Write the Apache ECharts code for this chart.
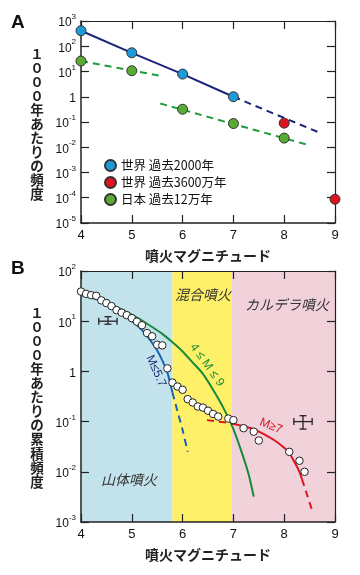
<!DOCTYPE html>
<html><head><meta charset="utf-8">
<script src="https://cdn.jsdelivr.net/npm/echarts@6/dist/echarts.min.js"></script>
<style>html,body{margin:0;padding:0;background:#fff}#c{width:360px;height:575px}</style>
</head><body><div id="c"></div>
<script>
// ---------- Panel A data ----------
const magTicks = [4,5,6,7,8,9];
const world2000M = [4,5,6,7];
const world2000 = [412,55,7.9,1.0];
const world36MM = [8,9];
const world36M = [0.09,0.000087];
const japanM = [4,5,6,7,8];
const japan = [26,10.7,0.32,0.087,0.023];
const worldDashM = [7,8.72];
const worldDash = [1.0,0.036];
const japanFit1M = [4,5.62];
const japanFit1 = [26,6.4];
const japanFit2M = [5.56,8.43];
const japanFit2 = [0.54,0.013];
const legendNames = ['世界 過去2000年','世界 過去3600万年','日本 過去12万年'];

// ---------- Panel B data ----------
const cumM = [4.0,4.1,4.2,4.3,4.4,4.5,4.6,4.7,4.8,4.9,5.0,5.1,5.2,5.3,5.4,5.5,5.6,5.7,5.8,5.9,6.0,6.1,6.2,6.3,6.4,6.5,6.6,6.7,6.9,7.0,7.2,7.4,7.5,8.1,8.3,8.4];
const cumFreq = [39,35,33,32,26,23,20,16.6,14.8,13.2,11.5,9.8,8.3,5.8,5.0,3.4,3.3,1.15,0.6,0.5,0.43,0.28,0.24,0.2,0.19,0.165,0.142,0.126,0.115,0.107,0.074,0.063,0.042,0.025,0.0166,0.010];
const allM = [4.0,4.3,4.6,5.0,5.3,5.6,5.8,6.0,6.2,6.4,6.6,6.8,7.0,7.2,7.3,7.4];
const allFit = [33,28,21.4,13.5,8.9,5.6,3.8,2.5,1.5,0.89,0.43,0.19,0.071,0.019,0.0089,0.0032];
const smallM = [4.0,4.3,4.6,4.9,5.2,5.4,5.5,5.6,5.7,5.8];
const smallFit = [33,27.5,19.5,12,6.7,3.7,2.6,1.66,0.95,0.38];
const smallDashM = [5.8,5.9,6.0,6.1];
const smallDash = [0.38,0.16,0.068,0.025];
const largeDashM = [6.48,6.95];
const largeDash = [0.107,0.093];
const largeM = [6.95,7.2,7.4,7.6,7.8,8.0,8.1,8.2,8.3,8.35];
const largeFit = [0.093,0.081,0.071,0.056,0.043,0.030,0.0234,0.0158,0.010,0.0071];
const largeDash2M = [8.35,8.45,8.55];
const largeDash2 = [0.0071,0.0035,0.0017];
const bandStart = [4,5.8,6.96];
const bandEnd = [5.8,6.96,9];
// error bars: centre M, centre value, M low, M high, value low, value high
const errBars = [[4.53,10,4.35,4.71,8.7,12.3],[8.37,0.1,8.19,8.55,0.071,0.131]];

const bandColors = ['#c3e3ec','#fff06a','#f1d1da'];
const FONT = '"Liberation Sans","Noto Sans CJK JP",sans-serif';
const JFONT = '"Noto Sans CJK JP","Liberation Sans",sans-serif';

function pairs(xs, ys){ return xs.map((x,i)=>[x, ys[i]]); }
function logLabel(v){
  const e = Math.round(Math.log10(v));
  if (e === 0) return '{b|1}';
  return '{b|10}{s|' + e + '}';
}
const richLab = {
  b:{fontSize:12, fontFamily:FONT, color:'#111', lineHeight:16, verticalAlign:'bottom'},
  s:{fontSize:8, fontFamily:FONT, color:'#111', lineHeight:8, verticalAlign:'top'}
};
const lineCol = '#222';
function xMain(grid){
  return {type:'value', gridIndex:grid, min:4, max:9, interval:1, position:'bottom',
    axisLine:{show:true, onZero:false, lineStyle:{color:lineCol, width:1.5}},
    axisTick:{show:true, inside:true, length:8, lineStyle:{color:lineCol, width:1.2}},
    axisLabel:{fontSize:13, color:'#111', fontFamily:FONT, margin:6},
    splitLine:{show:false},
    name:'噴火マグニチュード', nameLocation:'middle', nameGap:26,
    nameTextStyle:{fontSize:14, fontWeight:'bold', color:'#222', fontFamily:JFONT}};
}
function xTop(grid){
  return {type:'value', gridIndex:grid, min:4, max:9, interval:1, position:'top',
    axisLine:{show:true, onZero:false, lineStyle:{color:lineCol, width:1.2}},
    axisTick:{show:true, inside:true, length:8, lineStyle:{color:lineCol, width:1.2}},
    axisLabel:{show:false}, splitLine:{show:false}};
}
function yMain(grid, min, max, n){
  return {type:'log', logBase:10, gridIndex:grid, min:min, max:max, splitNumber:n, position:'left',
    axisLine:{show:true, onZero:false, lineStyle:{color:lineCol, width:1.5}},
    axisTick:{show:true, inside:true, length:8, lineStyle:{color:lineCol, width:1.2}},
    axisLabel:{formatter:logLabel, rich:richLab, margin:5},
    minorTick:{show:false}, splitLine:{show:false}};
}
function yRight(grid, min, max, n){
  return {type:'log', logBase:10, gridIndex:grid, min:min, max:max, splitNumber:n, position:'right',
    axisLine:{show:true, onZero:false, lineStyle:{color:lineCol, width:1.2}},
    axisTick:{show:true, inside:true, length:8, lineStyle:{color:lineCol, width:1.2}},
    axisLabel:{show:false}, splitLine:{show:false}};
}

const chart = echarts.init(document.getElementById('c'), null, {renderer:'canvas'});
const dashStyle = [7,5];
const option = {
  animation:false,
  backgroundColor:'#fff',
  grid:[
    {left:81, top:21, width:254, height:202},
    {left:81, top:271, width:254, height:251}
  ],
  xAxis:[xMain(0), xTop(0), xMain(1), xTop(1)],
  yAxis:[yMain(0,1e-5,1e3,8), yRight(0,1e-5,1e3,8), yMain(1,1e-3,1e2,5), yRight(1,1e-3,1e2,5)],
  legend:{
    data:legendNames, orient:'vertical', left:99, top:154, itemGap:4,
    icon:'circle', itemWidth:11, itemHeight:11,
    textStyle:{fontSize:12.5, color:'#111', fontFamily:JFONT, lineHeight:13},
    selectedMode:false
  },
  graphic:[
    {type:'text', left:11, top:13, style:{text:'A', font:'bold 19px "Liberation Sans",sans-serif', fill:'#111'}},
    {type:'text', left:11, top:259, style:{text:'B', font:'bold 19px "Liberation Sans",sans-serif', fill:'#111'}},
    {type:'text', x:37, y:124, style:{text:'１０００年あたりの頻度'.split('').join('\n'), font:'bold 13.5px '+JFONT, fill:'#222', align:'center', verticalAlign:'middle', lineHeight:14}},
    {type:'text', x:37, y:397, style:{text:'１０００年あたりの累積頻度'.split('').join('\n'), font:'bold 13.5px '+JFONT, fill:'#222', align:'center', verticalAlign:'middle', lineHeight:14.1}},
    {type:'text', x:203, y:295, z:50, style:{text:'混合噴火', font:'italic 14px '+JFONT, fill:'#333', align:'center', verticalAlign:'middle'}},
    {type:'text', x:287, y:305, z:50, style:{text:'カルデラ噴火', font:'italic 14px '+JFONT, fill:'#333', align:'center', verticalAlign:'middle'}},
    {type:'text', x:129, y:480, z:50, style:{text:'山体噴火', font:'italic 14px '+JFONT, fill:'#333', align:'center', verticalAlign:'middle'}},
    {type:'text', x:156, y:371, z:50, rotation:-1.15, style:{text:'M≤5.7', font:'12px '+FONT, fill:'#1b2a7a', align:'center', verticalAlign:'middle'}},
    {type:'text', x:207, y:365, z:50, rotation:-0.95, style:{text:'4 ≤ M ≤ 9', font:'12px '+FONT, fill:'#1a8a3a', align:'center', verticalAlign:'middle'}},
    {type:'text', x:271, y:426, z:50, rotation:-0.38, style:{text:'M≥7', font:'12px '+FONT, fill:'#d8121e', align:'center', verticalAlign:'middle'}}
  ],
  series:[
    // ---- Panel A ----
    {type:'line', xAxisIndex:0, yAxisIndex:0, data:pairs(world2000M, world2000), symbol:'none', z:2,
      lineStyle:{color:'#1b237a', width:2}},
    {type:'line', xAxisIndex:0, yAxisIndex:0, data:pairs(worldDashM, worldDash), symbol:'none', z:2,
      lineStyle:{color:'#1b237a', width:2, type:dashStyle}},
    {type:'line', xAxisIndex:0, yAxisIndex:0, data:pairs(japanFit1M, japanFit1), symbol:'none', z:2,
      lineStyle:{color:'#1f9a3a', width:2, type:dashStyle}},
    {type:'line', xAxisIndex:0, yAxisIndex:0, data:pairs(japanFit2M, japanFit2), symbol:'none', z:2,
      lineStyle:{color:'#1f9a3a', width:2, type:dashStyle}},
    {name:legendNames[0], type:'scatter', xAxisIndex:0, yAxisIndex:0, data:pairs(world2000M, world2000), symbolSize:10, z:5,
      itemStyle:{color:'#1d9ad8', borderColor:'#333', borderWidth:1, opacity:1}},
    {name:legendNames[1], type:'scatter', xAxisIndex:0, yAxisIndex:0, data:pairs(world36MM, world36M), symbolSize:10, z:5, clip:false,
      itemStyle:{color:'#dd1420', borderColor:'#333', borderWidth:1, opacity:1}},
    {name:legendNames[2], type:'scatter', xAxisIndex:0, yAxisIndex:0, data:pairs(japanM, japan), symbolSize:10, z:5,
      itemStyle:{color:'#5aab34', borderColor:'#333', borderWidth:1, opacity:1}},
    // ---- Panel B ----
    {type:'custom', xAxisIndex:2, yAxisIndex:2, z:0, silent:true,
      data:bandStart.map((s,i)=>[s, bandEnd[i], i]),
      renderItem:function(params, api){
        const p0 = api.coord([api.value(0), 1e2]);
        const p1 = api.coord([api.value(1), 1e-3]);
        return {type:'rect', shape:{x:p0[0], y:p0[1], width:p1[0]-p0[0], height:p1[1]-p0[1]},
          style:{fill:bandColors[api.value(2)]}};
      }},
    {type:'line', xAxisIndex:2, yAxisIndex:2, data:pairs(allM, allFit), symbol:'none', smooth:0.3, z:3,
      lineStyle:{color:'#17893a', width:2}},
    {type:'line', xAxisIndex:2, yAxisIndex:2, data:pairs(smallM, smallFit), symbol:'none', smooth:0.3, z:3,
      lineStyle:{color:'#1565b5', width:2}},
    {type:'line', xAxisIndex:2, yAxisIndex:2, data:pairs(smallDashM, smallDash), symbol:'none', smooth:0.3, z:3,
      lineStyle:{color:'#1565b5', width:2, type:dashStyle}},
    {type:'line', xAxisIndex:2, yAxisIndex:2, data:pairs(largeDashM, largeDash), symbol:'none', z:3,
      lineStyle:{color:'#dc1420', width:2, type:dashStyle}},
    {type:'line', xAxisIndex:2, yAxisIndex:2, data:pairs(largeM, largeFit), symbol:'none', smooth:0.3, z:3,
      lineStyle:{color:'#dc1420', width:2}},
    {type:'line', xAxisIndex:2, yAxisIndex:2, data:pairs(largeDash2M, largeDash2), symbol:'none', smooth:0.3, z:3,
      lineStyle:{color:'#dc1420', width:2, type:dashStyle}},
    {type:'custom', xAxisIndex:2, yAxisIndex:2, z:4, silent:true, data:errBars,
      renderItem:function(params, api){
        const cy = api.value(1), cx = api.value(0);
        const pL = api.coord([api.value(2), cy]), pR = api.coord([api.value(3), cy]);
        const pT = api.coord([cx, api.value(5)]), pB = api.coord([cx, api.value(4)]);
        const c = 3.5, st = {stroke:'#222', lineWidth:1.3};
        const L = (x1,y1,x2,y2)=>({type:'line', shape:{x1,y1,x2,y2}, style:st});
        return {type:'group', children:[
          L(pL[0],pL[1],pR[0],pR[1]), L(pT[0],pT[1],pB[0],pB[1]),
          L(pL[0],pL[1]-c,pL[0],pL[1]+c), L(pR[0],pR[1]-c,pR[0],pR[1]+c),
          L(pT[0]-c,pT[1],pT[0]+c,pT[1]), L(pB[0]-c,pB[1],pB[0]+c,pB[1])
        ]};
      }},
    {type:'scatter', xAxisIndex:2, yAxisIndex:2, data:pairs(cumM, cumFreq), symbolSize:7.5, z:6, clip:false,
      itemStyle:{color:'#fff', borderColor:'#222', borderWidth:1, opacity:1}}
  ]
};
chart.setOption(option);
</script></body></html>
